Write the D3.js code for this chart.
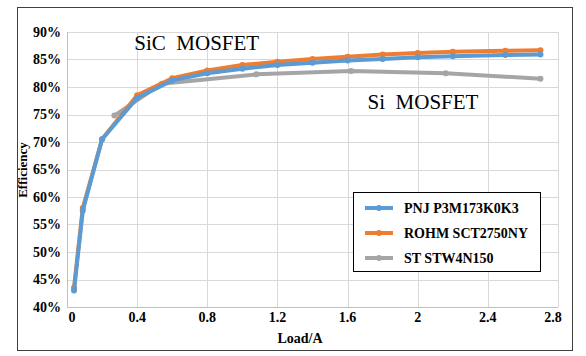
<!DOCTYPE html>
<html><head><meta charset="utf-8">
<script src="https://cdn.jsdelivr.net/npm/d3@7"></script>
<style>body{margin:0;background:#fff}svg{display:block}text{font-family:"Liberation Serif","Times New Roman",serif}</style>
</head><body>
<svg id="c" width="586" height="356"></svg>
<script>
const seriesNames = ["PNJ P3M173K0K3", "ROHM SCT2750NY", "ST STW4N150"];
const seriesColors = ["#5B9BD5", "#ED7D31", "#A5A5A5"];
const pnjLoad = [0.04, 0.09, 0.2, 0.4, 0.6, 0.8, 1.0, 1.2, 1.4, 1.6, 1.8, 2.0, 2.2, 2.5, 2.7];
const pnjEff  = [43.0, 57.5, 70.5, 78.0, 81.2, 82.5, 83.3, 84.0, 84.4, 84.8, 85.1, 85.4, 85.6, 85.8, 85.9];
const rohmLoad = [0.04, 0.09, 0.2, 0.4, 0.6, 0.8, 1.0, 1.2, 1.4, 1.6, 1.8, 2.0, 2.2, 2.5, 2.7];
const rohmEff  = [43.5, 58.0, 70.5, 78.5, 81.6, 83.0, 84.0, 84.6, 85.1, 85.5, 85.9, 86.2, 86.4, 86.6, 86.7];
const stLoad = [0.27, 0.54, 1.08, 1.62, 2.16, 2.7];
const stEff  = [74.8, 80.6, 82.3, 82.9, 82.5, 81.5];
const xTicks = [0, 0.4, 0.8, 1.2, 1.6, 2, 2.4, 2.8];
const yTicks = [40, 45, 50, 55, 60, 65, 70, 75, 80, 85, 90];
const xTitle = "Load/A", yTitle = "Efficiency";
const notes = [{t:"SiC  MOSFET", x:0.74, y:86.7}, {t:"Si  MOSFET", x:2.03, y:76.0}];

const FONT = "'Liberation Serif','Times New Roman',serif";
const svg = d3.select("#c").attr("font-family", FONT);
const L=67, R=558, T=32, B=307;
const x = d3.scaleLinear().domain([0,2.8]).range([L,R]);
const y = d3.scaleLinear().domain([40,90]).range([B,T]);

svg.append("rect").attr("x",17.5).attr("y",7.5).attr("width",555).attr("height",343)
  .attr("fill","#fff").attr("stroke","#404040").attr("stroke-width",1);

// grid
svg.append("g").selectAll("line").data(yTicks).join("line")
  .attr("x1",L).attr("x2",R).attr("y1",d=>Math.round(y(d))+0.5).attr("y2",d=>Math.round(y(d))+0.5)
  .attr("stroke","#d9d9d9");
svg.append("g").selectAll("line").data(xTicks).join("line")
  .attr("y1",T).attr("y2",B).attr("x1",d=>Math.round(x(d))+0.5).attr("x2",d=>Math.round(x(d))+0.5)
  .attr("stroke","#d9d9d9");
// axis lines
svg.append("line").attr("x1",L+0.5).attr("x2",L+0.5).attr("y1",T).attr("y2",B+0.5).attr("stroke","#bfbfbf");
svg.append("line").attr("x1",L).attr("x2",R).attr("y1",B+0.5).attr("y2",B+0.5).attr("stroke","#bfbfbf");

// tick labels
svg.append("g").selectAll("text").data(yTicks).join("text")
  .attr("font-family",FONT)
  .attr("x",61).attr("y",d=>y(d)).attr("dy","0.33em").attr("text-anchor","end")
  .attr("font-size",14).attr("font-weight","bold").text(d=>d+"%");
svg.append("g").selectAll("text").data(xTicks).join("text")
  .attr("font-family",FONT)
  .attr("x",(d,i)=>x(d)+(i===0?5:(i===xTicks.length-1?-5:0))).attr("y",322).attr("text-anchor","middle")
  .attr("font-size",14).attr("font-weight","bold").text(d=>d);
svg.append("text").attr("font-family",FONT).attr("x",300).attr("y",343).attr("text-anchor","middle")
  .attr("font-size",14).attr("font-weight","bold").text(xTitle);
svg.append("text").attr("font-family",FONT).attr("transform","translate(27,170) rotate(-90)").attr("text-anchor","middle")
  .attr("font-size",13).attr("font-weight","bold").text(yTitle);

// series
const data = [
  d3.zip(pnjLoad,pnjEff),
  d3.zip(rohmLoad,rohmEff),
  d3.zip(stLoad,stEff)
];
const line = d3.line().x(d=>x(d[0])).y(d=>y(d[1]));
[2,1,0].forEach(i=>{
  const g = svg.append("g");
  g.append("path").attr("d",line(data[i])).attr("fill","none").attr("stroke",seriesColors[i])
    .attr("stroke-width",4).attr("stroke-linejoin","round").attr("stroke-linecap","round");
  g.selectAll("circle").data(data[i]).join("circle").attr("cx",d=>x(d[0])).attr("cy",d=>y(d[1]))
    .attr("r",3).attr("fill",seriesColors[i]);
});

// annotations
svg.append("g").selectAll("text").data(notes).join("text")
  .attr("font-family",FONT)
  .attr("x",d=>x(d.x)).attr("y",d=>y(d.y)).attr("text-anchor","middle")
  .attr("font-size",21).style("white-space","pre").text(d=>d.t);

// legend
const lg = svg.append("g");
lg.append("rect").attr("x",353.5).attr("y",192.5).attr("width",187).attr("height",79)
  .attr("fill","#fff").attr("stroke","#000").attr("stroke-width",1);
seriesNames.forEach((n,i)=>{
  const yy = 208 + i*25;
  lg.append("line").attr("x1",365).attr("x2",393).attr("y1",yy).attr("y2",yy)
    .attr("stroke",seriesColors[i]).attr("stroke-width",4);
  lg.append("circle").attr("cx",379).attr("cy",yy).attr("r",3).attr("fill",seriesColors[i]);
  lg.append("text").attr("font-family",FONT).attr("x",404).attr("y",yy+5).attr("font-size",14).attr("font-weight","bold").text(n);
});
</script>
</body></html>
